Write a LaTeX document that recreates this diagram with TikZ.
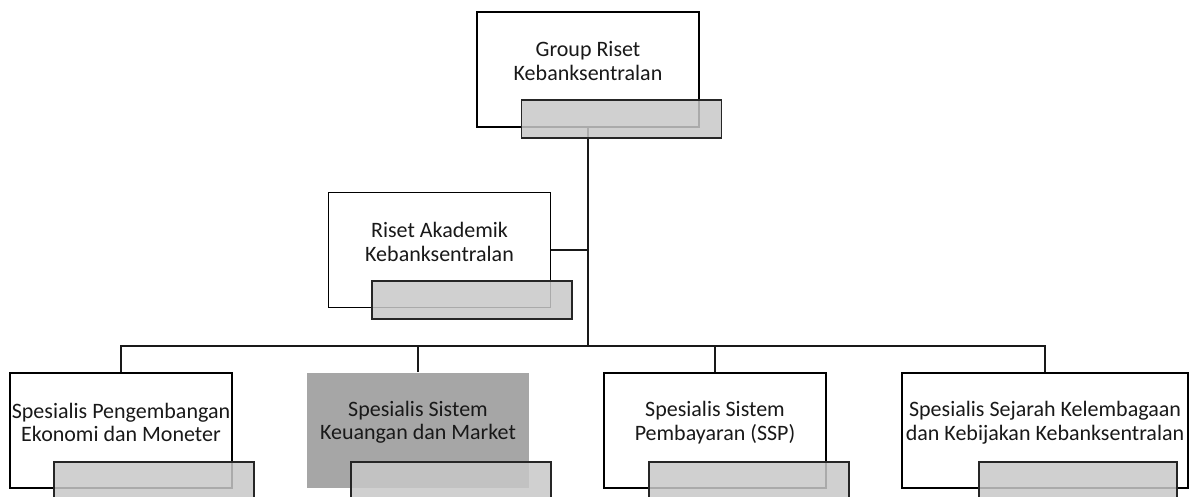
\documentclass[tikz,border=0pt]{standalone}
\usepackage{fontspec}
\setmainfont{Carlito}
\definecolor{txtc}{RGB}{25,25,25}
\definecolor{darkfill}{RGB}{166,166,166}
\definecolor{tabfill}{RGB}{200,200,200}
\begin{document}
\begin{tikzpicture}[x=1pt,y=-1pt,
  orgbox/.style={draw=black, line width=1.8pt, fill=white, minimum width=222pt, minimum height=115pt, inner sep=0pt},
  darkbox/.style={draw=none, fill=darkfill, minimum width=222pt, minimum height=115pt, inner sep=0pt},
  tab/.style={draw=black!85, line width=1.4pt, fill=tabfill, fill opacity=0.85, minimum width=200pt, minimum height=38pt, inner sep=0pt},
  lbl/.style={text=txtc, align=center, inner sep=0pt, font=\fontsize{22pt}{23.5pt}\selectfont},
  conn/.style={draw=black!90, line width=1.2pt}]
\useasboundingbox (0,0) rectangle (1197,497);
\coordinate (hub) at (588,346);
% invisible placeholders for connector ends
\node[orgbox, draw=none, fill=none] (topc) at (588,69.5) {};
\node[orgbox, draw=none, fill=none] (risetc) at (439.5,250) {};
\node[orgbox, draw=none, fill=none] (b1c) at (121,430.5) {};
\node[orgbox, draw=none, fill=none] (b2c) at (418,430.5) {};
\node[orgbox, draw=none, fill=none] (b3c) at (715,430.5) {};
\node[orgbox, draw=none, fill=none, minimum width=286pt] (b4c) at (1045,430.5) {};
% connectors
\draw[conn] (topc.south) -- (hub);
\draw[conn] (risetc.east) -- (risetc.east -| hub);
\draw[conn] (b1c.north) |- (hub) -| (b4c.north);
\draw[conn] (b2c.north) -- (b2c.north |- hub);
\draw[conn] (b3c.north) -- (b3c.north |- hub);
% boxes
\node[orgbox] (top) at (588,69.5) {};
\node[lbl] (topt) at (588,61) {Group Riset\\Kebanksentralan};
\node[tab] (topg) at (621.5,119) {};
\node[orgbox] (riset) at (439.5,250) {};
\node[lbl] (risett) at (439.5,242) {Riset Akademik\\Kebanksentralan};
\node[tab] (risetg) at (472,300) {};
\node[orgbox] (b1) at (121,430.5) {};
\node[lbl] (b1t) at (121,422.5) {Spesialis Pengembangan\\Ekonomi dan Moneter};
\node[tab] (b1g) at (154,481) {};
\node[darkbox] (b2) at (418,430.5) {};
\node[lbl] (b2t) at (418,422.5) {Spesialis Sistem\\Keuangan dan Market};
\node[tab] (b2g) at (451,481) {};
\node[orgbox] (b3) at (715,430.5) {};
\node[lbl] (b3t) at (715,422.5) {Spesialis Sistem\\Pembayaran (SSP)};
\node[tab] (b3g) at (749,481) {};
\node[orgbox, minimum width=286pt] (b4) at (1045,430.5) {};
\node[lbl] (b4t) at (1045,422.5) {Spesialis Sejarah Kelembagaan\\dan Kebijakan Kebanksentralan};
\node[tab, minimum width=198pt] (b4g) at (1078,481) {};
\end{tikzpicture}
\end{document}
